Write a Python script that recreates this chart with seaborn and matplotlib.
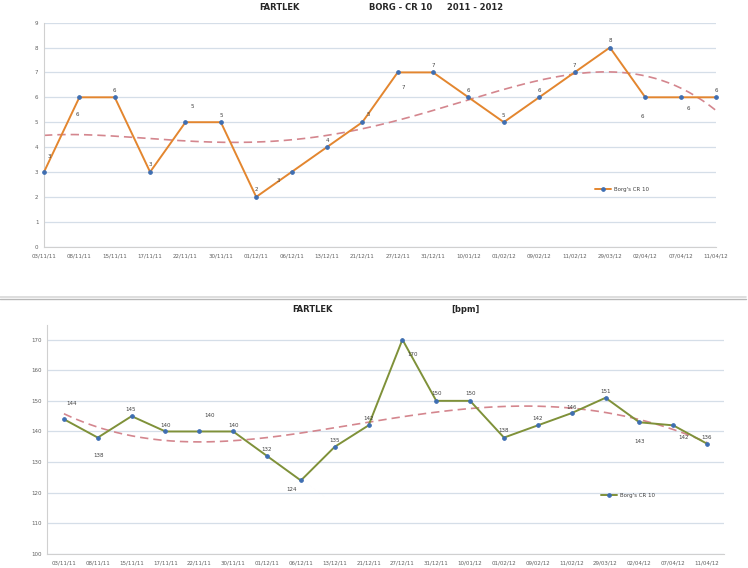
import numpy as np
import pandas as pd
import matplotlib
matplotlib.use("Agg")
import matplotlib.pyplot as plt
from matplotlib.lines import Line2D
import seaborn as sns

# ---------------- data ----------------
dates = ["03/11/11", "08/11/11", "15/11/11", "17/11/11", "22/11/11", "30/11/11",
         "01/12/11", "06/12/11", "13/12/11", "21/12/11", "27/12/11", "31/12/11",
         "10/01/12", "01/02/12", "09/02/12", "11/02/12", "29/03/12", "02/04/12",
         "07/04/12", "11/04/12"]
borg = [3, 6, 6, 3, 5, 5, 2, 3, 4, 5, 7, 7, 6, 5, 6, 7, 8, 6, 6, 6]
bpm = [144, 138, 145, 140, 140, 140, 132, 124, 135, 142, 170, 150, 150, 138,
       142, 146, 151, 143, 142, 136]
borg_yticks = [0, 1, 2, 3, 4, 5, 6, 7, 8, 9]
bpm_yticks = [100, 110, 120, 130, 140, 150, 160, 170]
series_name = "Borg's CR 10"
trend_order = 4

# label offsets (pixels) - styling only
borg_off = [(5, 16), (-2, -17), (0, 7), (0, 7), (7, 16), (0, 7), (0, 7), (-13, -8),
            (0, 7), (6, 8), (6, -15), (0, 7), (0, 7), (0, 7), (0, 7), (0, 7),
            (0, 7), (-3, -19), (8, -11), (0, 7)]
bpm_off = [(8, 16), (1, -18), (-1, 7), (0, 6), (10, 16), (0, 6), (0, 6), (-9, -9),
           (0, 6), (0, 7), (10, -15), (0, 7), (0, 7), (0, 7), (0, 7), (0, 6),
           (0, 6), (0, -19), (10, -12), (0, 6)]

sns.set_style("white")
plt.rcParams['font.family'] = ['DejaVu Sans']

W, H = 748, 568
fig = plt.figure(figsize=(W / 100, H / 100), dpi=100)
fig.patch.set_facecolor("white")

ORANGE = "#E3862F"
OLIVE = "#7F9139"
MARK = "#3E6EB2"
TREND = "#D4868E"
GRID = "#D5DEE8"
SPINE = "#D0D0D0"
TICKC = "#606060"


def panel(ax, values, color, offs, yticks, ylim, xlim):
    df = pd.DataFrame({"date": dates, "val": values, "series": series_name})
    df["x"] = np.arange(len(dates))
    sns.lineplot(data=df, x="x", y="val", ax=ax, color=color, lw=1.4,
                 sort=False, label=series_name, marker="o", markersize=2.6,
                 markerfacecolor=MARK, markeredgecolor=MARK, clip_on=False,
                 zorder=3)
    # polynomial trendline (Excel-style, computed from the data)
    coef = np.polyfit(df["x"], df["val"], trend_order)
    tx = np.linspace(0, len(dates) - 1, 200)
    sns.lineplot(x=tx, y=np.polyval(coef, tx), ax=ax, color=TREND, lw=1.2,
                 dashes=False, linestyle=(0, (5, 3)), zorder=2, legend=False)
    for i, v in enumerate(values):
        ax.annotate(str(v), (i, v), xytext=offs[i], textcoords="offset pixels",
                    ha="center", va="center", fontsize=4, color="#404040")
    ax.set_xlim(*xlim)
    ax.set_ylim(*ylim)
    ax.set_yticks(yticks)
    ax.set_xticks(np.arange(len(dates)))
    ax.set_xticklabels(dates)
    ax.set_xlabel("")
    ax.set_ylabel("")
    ax.grid(axis="y", color=GRID, lw=0.9)
    ax.grid(axis="x", visible=False)
    for s in ["top", "right"]:
        ax.spines[s].set_visible(False)
    for s in ["left", "bottom"]:
        ax.spines[s].set_color(SPINE)
        ax.spines[s].set_linewidth(0.8)
    ax.tick_params(axis="both", labelsize=4, colors=TICKC, length=0, pad=4)
    ax.tick_params(axis="x", length=2, color=SPINE, pad=3)
    ax.set_axisbelow(True)
    ax.set_facecolor("white")


# top panel
ax1 = fig.add_axes([44 / W, (H - 246.7) / H, (716 - 44) / W, (246.7 - 22.6) / H])
panel(ax1, borg, ORANGE, borg_off, borg_yticks, (0, 9), (0, 19))
ax1.legend(loc="center left", bbox_to_anchor=((592 - 44) / 672, (246.7 - 189) / 224.1),
           fontsize=4, frameon=False, handlelength=3, handletextpad=0.4,
           borderpad=0, labelcolor="#404040")

# bottom panel
ax2 = fig.add_axes([47 / W, (H - 554) / H, (724 - 47) / W, (554 - 325) / H])
panel(ax2, bpm, OLIVE, bpm_off, bpm_yticks, (100, 100 + (554 - 325) / 3.063), (-0.5, 19.5))
ax2.legend(loc="center left", bbox_to_anchor=((598 - 47) / 677, (554 - 495) / 229),
           fontsize=4, frameon=False, handlelength=3, handletextpad=0.4,
           borderpad=0, labelcolor="#404040")

# titles
tk = dict(fontsize=6, fontweight="bold", color="#262626", va="center", ha="left")
fig.text(259 / W, 1 - 8 / H, "FARTLEK", **tk)
fig.text(369 / W, 1 - 8 / H, "BORG - CR 10", **tk)
fig.text(447 / W, 1 - 8 / H, "2011 - 2012", **tk)
fig.text(292 / W, 1 - 309 / H, "FARTLEK", **tk)
fig.text(451 / W, 1 - 309 / H, "[bpm]", **tk)

# separator between the two charts
fig.add_artist(Line2D([0, 746 / W], [1 - 296.8 / H, 1 - 296.8 / H], color="#D8D8D8", lw=1.2))
fig.add_artist(Line2D([0, 746 / W], [1 - 298.6 / H, 1 - 298.6 / H], color="#B8B8B8", lw=1.0))

fig.savefig("out.png", dpi=100, facecolor="white")
